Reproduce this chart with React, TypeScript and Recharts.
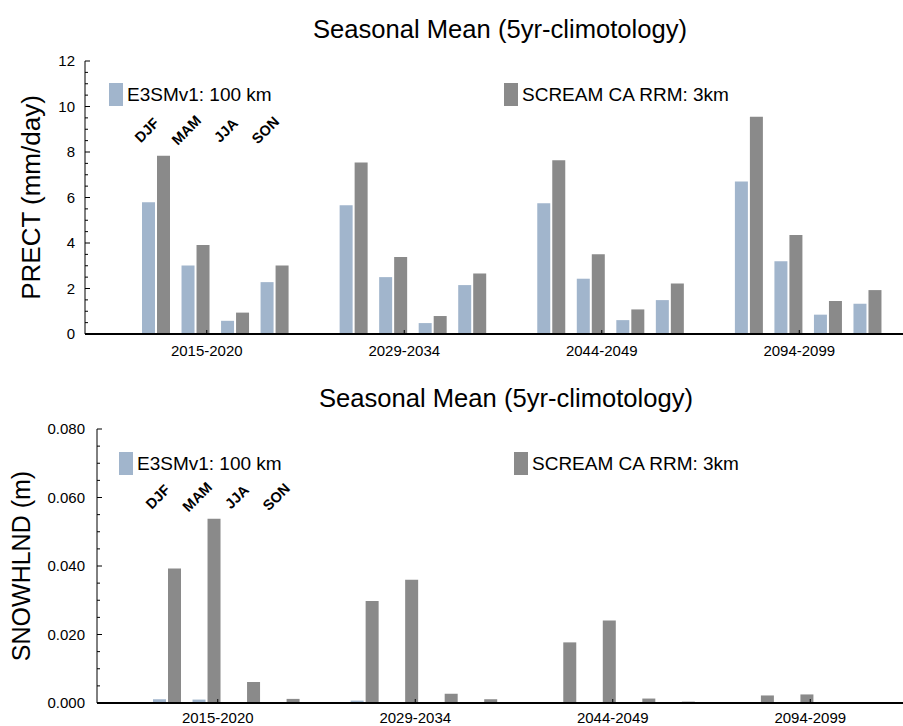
import React from "react";
import {
  Bar,
  BarChart,
  Legend,
  ReferenceDot,
  XAxis,
  YAxis,
} from "recharts";

const periods = ["2015-2020", "2029-2034", "2044-2049", "2094-2099"];
const seasons = ["DJF", "MAM", "JJA", "SON"];

// PRECT (mm/day), one row per period, DJF/MAM/JJA/SON
const precE3sm = [
  [5.79, 3.01, 0.58, 2.28],
  [5.66, 2.5, 0.48, 2.15],
  [5.75, 2.43, 0.61, 1.49],
  [6.7, 3.2, 0.85, 1.33],
];
const precScream = [
  [7.83, 3.91, 0.94, 3.01],
  [7.54, 3.38, 0.79, 2.66],
  [7.64, 3.51, 1.08, 2.22],
  [9.55, 4.35, 1.45, 1.93],
];

// SNOWHLND (m)
const snowE3sm = [
  [0.0011, 0.001, 0.0002, 0.0001],
  [0.0007, 0.0002, 0.0001, 0.0001],
  [0.0002, 0.0001, 0.0001, 0.0001],
  [0.0001, 0.0001, 0.0001, 0.0001],
];
const snowScream = [
  [0.0393, 0.0538, 0.0061, 0.0012],
  [0.0298, 0.036, 0.0027, 0.0011],
  [0.0177, 0.0241, 0.0013, 0.0004],
  [0.0022, 0.0025, 0, 0],
];

const precTicks = [0, 2, 4, 6, 8, 10, 12];
const snowTicks = [0, 0.02, 0.04, 0.06, 0.08];

const E3SM_NAME = "E3SMv1: 100 km";
const SCREAM_NAME = "SCREAM CA RRM: 3km";
const BLUE = "#a1b5cc";
const GRAY = "#8a8a8a";
const FONT = "'Liberation Sans', Arial, Helvetica, sans-serif";

function buildRows(e3: number[][], scream: number[][]) {
  const rows: any[] = [];
  periods.forEach((p, pi) => {
    seasons.forEach((s, si) => {
      rows.push({ key: `${p} ${s}`, pIdx: pi + 0.5, e3sm: e3[pi][si], scream: scream[pi][si] });
    });
    if (pi < periods.length - 1) rows.push({ key: `gap${pi}`, pIdx: pi + 0.5 });
  });
  return rows;
}

function minorTicks(max: number, step: number) {
  const n = Math.round(max / step);
  return Array.from({ length: n + 1 }, (_, i) => +(i * step).toFixed(4));
}

const makeYTick = (majors: number[], fmt: (v: number) => string, gap: number) =>
  function YTick(props: any) {
    const { x, y, payload } = props;
    const major = majors.some((m) => Math.abs(m - payload.value) < 1e-9);
    return (
      <g>
        <line x1={x} x2={x + (major ? 5 : 3)} y1={y} y2={y} stroke="#000" />
        {major && (
          <text x={x - gap} y={y} dy="0.36em" textAnchor="end" fontSize={15} fontFamily={FONT} fill="#000">
            {fmt(payload.value)}
          </text>
        )}
      </g>
    );
  };

const makePeriodTick = (dy: number) =>
  function PeriodTick(props: any) {
    const { x, y, payload } = props;
    return (
      <g>
        <line x1={x} x2={x} y1={y} y2={y - 4} stroke="#000" />
        <text x={x} y={y + dy} textAnchor="middle" fontSize={15} fontFamily={FONT} fill="#000">
          {periods[Math.floor(payload.value)]}
        </text>
      </g>
    );
  };

const makeLegend = (blueX: number, grayX: number, top: number) =>
  function LegendContent(props: any) {
    const { payload } = props;
    const xs = [blueX, grayX];
    return (
      <div style={{ position: "relative", width: 903, height: 0 }}>
        {(payload || []).map((entry: any, i: number) => (
          <div key={entry.value} style={{ position: "absolute", left: xs[i], top, display: "flex", alignItems: "center" }}>
            <span style={{ width: 14, height: 23, background: entry.color, display: "inline-block" }} />
            <span style={{ marginLeft: 4, fontSize: 19, lineHeight: "23px", fontFamily: FONT, color: "#000", whiteSpace: "nowrap" }}>
              {entry.value}
            </span>
          </div>
        ))}
      </div>
    );
  };

const seasonLabel = (text: string) =>
  function SeasonLabel(props: any) {
    const { cx, cy } = props;
    const tx = cx - 9;
    return (
      <text
        x={tx}
        y={cy}
        dy="0.35em"
        textAnchor="middle"
        transform={`rotate(-45 ${tx} ${cy})`}
        fontSize={14.5}
        fontWeight={700}
        fontFamily={FONT}
        fill="#000"
      >
        {text}
      </text>
    );
  };

interface PanelProps {
  rows: any[];
  height: number;
  marginTop: number;
  axisWidth: number;
  axisHeight: number;
  domainMax: number;
  majors: number[];
  minorStep: number;
  fmt: (v: number) => string;
  tickGap: number;
  catPad: { left: number; right: number };
  periodPad: { left: number; right: number };
  periodDy: number;
  labelY: number;
  title: string;
  titleX: number;
  titleY: number;
  yLabel: string;
  yLabelX: number;
  yLabelSize: number;
  legend: [number, number, number];
}

function Panel(p: PanelProps) {
  const plotTop = p.marginTop;
  const plotBottom = p.height - p.axisHeight;
  return (
    <BarChart
      width={903}
      height={p.height}
      data={p.rows}
      margin={{ top: p.marginTop, right: 0, bottom: 0, left: 0 }}
      barGap={2}
    >
      <text x={p.titleX} y={p.titleY} textAnchor="middle" fontSize={25.6} fontFamily={FONT} fill="#000">
        {p.title}
      </text>
      <text
        x={p.yLabelX}
        y={(plotTop + plotBottom) / 2}
        dy="0.35em"
        textAnchor="middle"
        transform={`rotate(-90 ${p.yLabelX} ${(plotTop + plotBottom) / 2})`}
        fontSize={p.yLabelSize}
        fontFamily={FONT}
        fill="#000"
      >
        {p.yLabel}
      </text>
      <XAxis xAxisId="cat" dataKey="key" hide height={0} padding={p.catPad} />
      <XAxis
        xAxisId="period"
        type="number"
        dataKey="pIdx"
        domain={[0, 4]}
        allowDataOverflow
        ticks={[0.5, 1.5, 2.5, 3.5]}
        interval={0}
        padding={p.periodPad}
        height={p.axisHeight}
        axisLine={{ stroke: "#000", strokeWidth: 2 }}
        tickLine={false}
        tickSize={0}
        tickMargin={0}
        tick={makePeriodTick(p.periodDy)}
      />
      <YAxis
        width={p.axisWidth}
        domain={[0, p.domainMax]}
        allowDataOverflow
        ticks={minorTicks(p.domainMax, p.minorStep)}
        interval={0}
        axisLine={{ stroke: "#000" }}
        tickLine={false}
        tickSize={0}
        tickMargin={0}
        tick={makeYTick(p.majors, p.fmt, p.tickGap)}
      />
      <Legend
        verticalAlign="middle"
        align="center"
        content={makeLegend(p.legend[0], p.legend[1], p.legend[2])}
        wrapperStyle={{ position: "absolute", left: 0, top: 0, width: 903, height: 0 }}
      />
      <Bar xAxisId="cat" dataKey="e3sm" name={E3SM_NAME} fill={BLUE} barSize={13} isAnimationActive={false} />
      <Bar xAxisId="cat" dataKey="scream" name={SCREAM_NAME} fill={GRAY} barSize={13} isAnimationActive={false} />
      {seasons.map((s) => (
        <ReferenceDot
          key={s}
          xAxisId="cat"
          x={`${periods[0]} ${s}`}
          y={p.labelY}
          r={0}
          ifOverflow="visible"
          shape={seasonLabel(s)}
        />
      ))}
    </BarChart>
  );
}

export default function App() {
  return (
    <div style={{ position: "absolute", left: 0, top: 0, width: 903, height: 726, background: "#fff" }}>
      <div style={{ position: "absolute", left: 0, top: 0 }}>
        <Panel
          rows={buildRows(precE3sm, precScream)}
          height={370}
          marginTop={61}
          axisWidth={85}
          axisHeight={36}
          domainMax={12}
          majors={precTicks}
          minorStep={0.5}
          fmt={(v) => String(v)}
          tickGap={10}
          catPad={{ left: 51, right: 16 }}
          periodPad={{ left: 23, right: 5 }}
          periodDy={22}
          labelY={8.96}
          title="Seasonal Mean (5yr-climotology)"
          titleX={500}
          titleY={38}
          yLabel="PRECT (mm/day)"
          yLabelX={31}
          yLabelSize={26}
          legend={[109, 504, 83]}
        />
      </div>
      <div style={{ position: "absolute", left: 0, top: 380 }}>
        <Panel
          rows={buildRows(snowE3sm, snowScream)}
          height={346}
          marginTop={49}
          axisWidth={97}
          axisHeight={23}
          domainMax={0.08}
          majors={snowTicks}
          minorStep={0.005}
          fmt={(v) => v.toFixed(3)}
          tickGap={12}
          catPad={{ left: 50, right: 5 }}
          periodPad={{ left: 22, right: -6 }}
          periodDy={20}
          labelY={0.0602}
          title="Seasonal Mean (5yr-climotology)"
          titleX={506}
          titleY={27}
          yLabel="SNOWHLND (m)"
          yLabelX={21}
          yLabelSize={25}
          legend={[119, 514, 72]}
        />
      </div>
    </div>
  );
}
